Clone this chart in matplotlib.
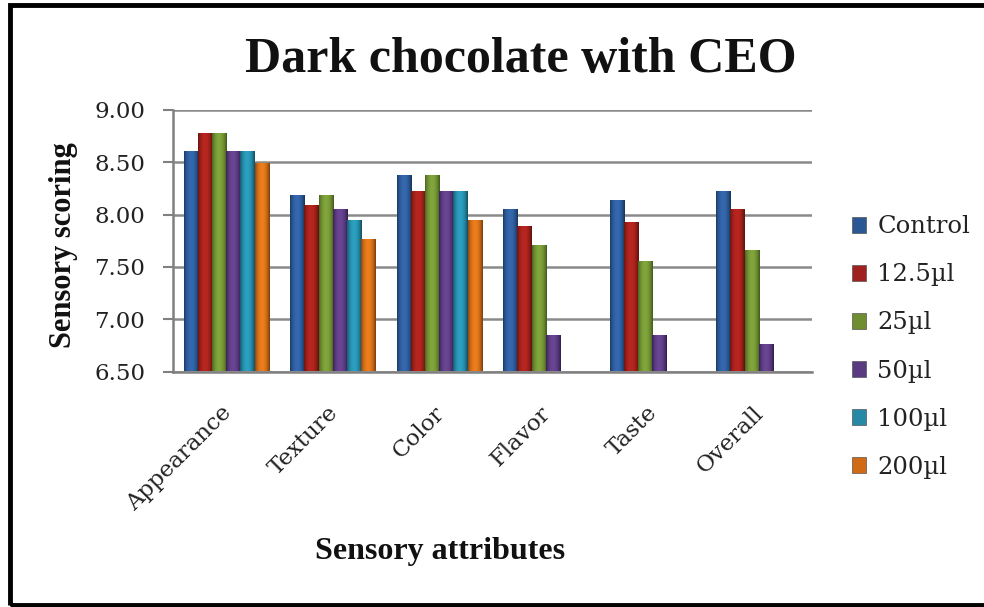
import numpy as np
import matplotlib
matplotlib.use("Agg")
import matplotlib.pyplot as plt
from matplotlib.patches import Rectangle, Patch
from matplotlib.colors import to_rgb
from matplotlib.transforms import ScaledTranslation

categories = ["Appearance", "Texture", "Color", "Flavor", "Taste", "Overall"]
series_names = ["Control", "12.5\u00b5l", "25\u00b5l", "50\u00b5l", "100\u00b5l", "200\u00b5l"]
control = [8.60, 8.18, 8.37, 8.04, 8.13, 8.22]
s12_5 = [8.77, 8.08, 8.22, 7.88, 7.92, 8.04]
s25 = [8.77, 8.18, 8.37, 7.70, 7.55, 7.65]
s50 = [8.60, 8.04, 8.22, 6.84, 6.84, 6.75]
s100 = [8.60, 7.94, 8.22, np.nan, np.nan, np.nan]
s200 = [8.48, 7.76, 7.94, np.nan, np.nan, np.nan]
series_values = [control, s12_5, s25, s50, s100, s200]
yticks = [6.50, 7.00, 7.50, 8.00, 8.50, 9.00]
ymin, ymax = 6.5, 9.0

center_colors = ["#3568AE", "#B8261F", "#82A53C", "#6A4594", "#2CA0C0", "#EE7E1C"]
edge_colors = ["#173760", "#641310", "#46601D", "#352050", "#145468", "#84420E"]
legend_colors = ["#2B5794", "#A0221F", "#6F8E32", "#5A3A80", "#2689A6", "#D06A15"]

fig = plt.figure(figsize=(9.84, 6.07), dpi=100)
ax = fig.add_axes([173/984, 1-371.5/607, (812-173)/984, (371.5-110)/607])

n = len(series_names)
x = np.arange(len(categories))
group = 0.80
w = group / n

for i, (vals, cc, ec) in enumerate(zip(series_values, center_colors, edge_colors)):
    pos = x - group/2 + w*(i+0.5)
    vals = np.array(vals, dtype=float)
    bars = ax.bar(pos, vals - ymin, bottom=ymin, width=w, color=cc, linewidth=0, zorder=2)
    t = np.linspace(0, 1, 64)
    prof = np.sin(np.pi * np.clip(t*1.05, 0, 1)) ** 0.7
    c1 = np.array(to_rgb(ec)); c2 = np.array(to_rgb(cc))
    grad = (c1[None, :] * (1-prof[:, None]) + c2[None, :] * prof[:, None])[None, :, :]
    for b, v in zip(bars, vals):
        if np.isnan(v):
            continue
        x0 = b.get_x(); x1 = x0 + b.get_width()
        ax.imshow(grad, extent=(x0, x1, ymin, v), aspect="auto", zorder=3,
                  interpolation="bilinear")

ax.set_xlim(-0.5, len(categories)-0.5)
ax.set_ylim(ymin, ymax)
ax.set_yticks(yticks)
ax.set_yticklabels([f"{v:.2f}" for v in yticks], family="DejaVu Serif", fontsize=16.5, color="#222222")
ax.set_xticks(x)
ax.set_xticklabels(categories, rotation=45, ha="right", rotation_mode="anchor",
                   family="DejaVu Serif", fontsize=16.5, color="#222222")
ax.tick_params(axis="x", length=0, pad=22)
ax.tick_params(axis="y", length=7, width=1.5, color="#808080", direction="out", pad=13)
shift = ScaledTranslation(-6/100, 0, fig.dpi_scale_trans)
for lab in ax.get_xticklabels():
    lab.set_transform(lab.get_transform() + shift)
ax.yaxis.grid(True, color="#8A8A8A", linewidth=1.8, zorder=0)
ax.set_axisbelow(True)
for s in ["top", "right"]:
    ax.spines[s].set_visible(False)
for s in ["left", "bottom"]:
    ax.spines[s].set_color("#808080")
    ax.spines[s].set_linewidth(1.8)

fig.text(521/984, 1-60/607, "Dark chocolate with CEO", ha="center", va="center",
         family="Liberation Serif", fontweight="bold", fontsize=36, color="#111111")
fig.text(63/984, 1-245/607, "Sensory scoring", ha="center", va="center", rotation=90,
         family="Liberation Serif", fontweight="bold", fontsize=22, color="#111111")
fig.text(440/984, 1-552/607, "Sensory attributes", ha="center", va="center",
         family="Liberation Serif", fontweight="bold", fontsize=23, color="#111111")

handles = [Patch(facecolor=c, edgecolor="#555555", linewidth=0.5) for c in legend_colors]
leg = fig.legend(handles, series_names, loc="center left", bbox_to_anchor=(830/984, 1-347/607),
                 frameon=False, prop={"family": "DejaVu Serif", "size": 17.5},
                 handlelength=0.6, handleheight=0.6, handletextpad=0.45, labelspacing=1.03)
for t in leg.get_texts():
    t.set_color("#222222")

fig.patches.append(Rectangle((10/984, 2/607), 1.2, 1-7/607, transform=fig.transFigure,
                             fill=False, edgecolor="black", linewidth=3.5))

fig.savefig("out.png", dpi=100)
